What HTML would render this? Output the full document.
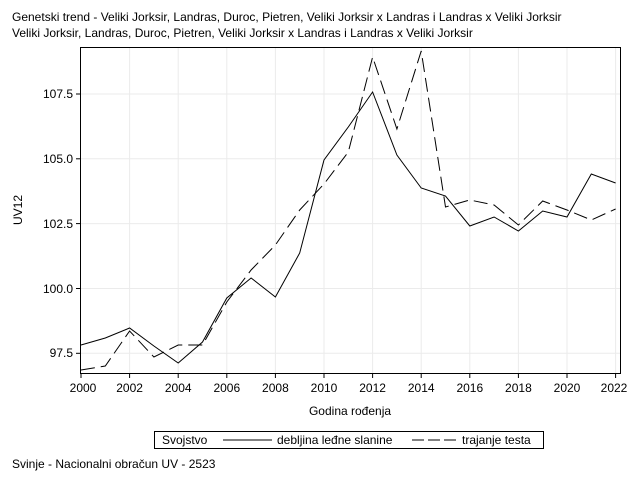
<!DOCTYPE html>
<html><head><meta charset="utf-8"><style>
html,body{margin:0;padding:0;background:#fff;}
svg{display:block;font-family:"Liberation Sans",Arial,sans-serif;}
</style></head><body>
<svg width="640" height="480" viewBox="0 0 640 480" xmlns="http://www.w3.org/2000/svg">
<rect width="640" height="480" fill="#fff"/>
<text x="12" y="21" font-size="12" fill="#000">Genetski trend - Veliki Jorksir, Landras, Duroc, Pietren, Veliki Jorksir x Landras i Landras x Veliki Jorksir</text>
<text x="12" y="37" font-size="12" fill="#000">Veliki Jorksir, Landras, Duroc, Pietren, Veliki Jorksir x Landras i Landras x Veliki Jorksir</text>
<g stroke="#ebebeb" stroke-width="1">
<line x1="81" y1="94" x2="620" y2="94"/><line x1="81" y1="158.8" x2="620" y2="158.8"/><line x1="81" y1="223.6" x2="620" y2="223.6"/><line x1="81" y1="288.5" x2="620" y2="288.5"/><line x1="81" y1="353.3" x2="620" y2="353.3"/>
<line x1="129.6" y1="47" x2="129.6" y2="373"/><line x1="178.2" y1="47" x2="178.2" y2="373"/><line x1="226.8" y1="47" x2="226.8" y2="373"/><line x1="275.4" y1="47" x2="275.4" y2="373"/><line x1="324" y1="47" x2="324" y2="373"/><line x1="372.6" y1="47" x2="372.6" y2="373"/><line x1="421.2" y1="47" x2="421.2" y2="373"/><line x1="469.8" y1="47" x2="469.8" y2="373"/><line x1="518.4" y1="47" x2="518.4" y2="373"/><line x1="567" y1="47" x2="567" y2="373"/><line x1="615.6" y1="47" x2="615.6" y2="373"/>
</g>
<rect x="80.5" y="47.5" width="540" height="326" fill="none" stroke="#000"/>
<g stroke="#000">
<line x1="76" y1="94" x2="81" y2="94"/><line x1="76" y1="158.8" x2="81" y2="158.8"/><line x1="76" y1="223.6" x2="81" y2="223.6"/><line x1="76" y1="288.5" x2="81" y2="288.5"/><line x1="76" y1="353.3" x2="81" y2="353.3"/>
<line x1="81" y1="373" x2="81" y2="378"/><line x1="129.6" y1="373" x2="129.6" y2="378"/><line x1="178.2" y1="373" x2="178.2" y2="378"/><line x1="226.8" y1="373" x2="226.8" y2="378"/><line x1="275.4" y1="373" x2="275.4" y2="378"/><line x1="324" y1="373" x2="324" y2="378"/><line x1="372.6" y1="373" x2="372.6" y2="378"/><line x1="421.2" y1="373" x2="421.2" y2="378"/><line x1="469.8" y1="373" x2="469.8" y2="378"/><line x1="518.4" y1="373" x2="518.4" y2="378"/><line x1="567" y1="373" x2="567" y2="378"/><line x1="615.6" y1="373" x2="615.6" y2="378"/>
</g>
<g font-size="12" fill="#000" text-anchor="end">
<text x="73" y="98">107.5</text><text x="73" y="163">105.0</text><text x="73" y="228">102.5</text><text x="73" y="293">100.0</text><text x="73" y="357">97.5</text>
</g>
<g font-size="12" fill="#000" text-anchor="middle">
<text x="83" y="392">2000</text><text x="129.6" y="392">2002</text><text x="178.2" y="392">2004</text><text x="226.8" y="392">2006</text><text x="275.4" y="392">2008</text><text x="324" y="392">2010</text><text x="372.6" y="392">2012</text><text x="421.2" y="392">2014</text><text x="469.8" y="392">2016</text><text x="518.4" y="392">2018</text><text x="567" y="392">2020</text><text x="614" y="392">2022</text>
<text x="350" y="415">Godina rođenja</text>
</g>
<text transform="translate(22,210) rotate(-90)" font-size="12" text-anchor="middle">UV12</text>
<polyline fill="none" stroke="#000" stroke-width="1" points="81,345 105.3,338 129.6,328 153.9,346 178.2,363 202.5,342 226.8,298 251.1,278 275.4,297 299.7,253 324,160 348.3,127 372.6,92 396.9,155 421.2,188 445.5,196 469.8,226 494.1,217 518.4,231 542.7,211 567,217 591.3,174 615.6,183"/>
<polyline fill="none" stroke="#000" stroke-width="1" stroke-dasharray="14,6" points="81,370 105.3,366 129.6,331 153.9,357 178.2,345 202.5,345 226.8,302 251.1,270 275.4,245 299.7,210 324,184 348.3,152 372.6,57 396.9,129 421.2,51 445.5,207 469.8,200 494.1,205 518.4,225 542.7,201 567,210 591.3,220 615.6,209"/>
<rect x="154.5" y="431.5" width="389" height="17" fill="none" stroke="#000"/>
<text x="162" y="444" font-size="12">Svojstvo</text>
<line x1="223" y1="440" x2="272" y2="440" stroke="#000"/>
<text x="277" y="444" font-size="12">debljina leđne slanine</text>
<line x1="412" y1="440" x2="456" y2="440" stroke="#000" stroke-dasharray="12,4"/>
<text x="462" y="444" font-size="12">trajanje testa</text>
<text x="12" y="468" font-size="12">Svinje - Nacionalni obračun UV - 2523</text>
</svg>
</body></html>
